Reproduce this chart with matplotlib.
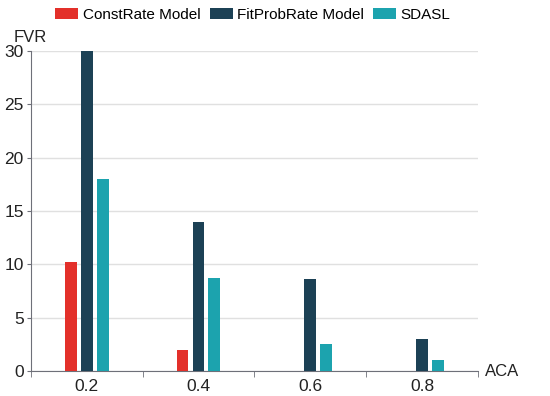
import numpy as np
import matplotlib.pyplot as plt

plt.rcParams['font.family'] = ['Liberation Sans', 'DejaVu Sans']

categories = ['0.2', '0.4', '0.6', '0.8']
const_rate = [10.2, 2.0, 0, 0]
fit_prob = [30, 14, 8.6, 3]
sdasl = [18, 8.7, 2.5, 1]

names = ['ConstRate Model', 'FitProbRate Model', 'SDASL']
colors = ['#e3302a', '#1c4155', '#1ca3ae']

fig = plt.figure(figsize=(5.5, 3.96), dpi=100)
ax = fig.add_axes([0.056, 0.063, 0.813, 0.808])

x = np.arange(len(categories))
w = 0.107
off = 0.143
for i, (vals, name, c) in enumerate(zip([const_rate, fit_prob, sdasl], names, colors)):
    ax.bar(x + (i - 1) * off, vals, width=w, color=c, label=name, zorder=3)

ax.set_xlim(-0.5, 3.5)
ax.set_ylim(0, 30)
ax.set_yticks([0, 5, 10, 15, 20, 25, 30])
ax.set_xticks(x)
ax.set_xticklabels(categories)
ax.set_xticks(np.arange(-0.5, 4, 1), minor=True)
ax.grid(axis='y', color='#e0e0e0', lw=1, zorder=0)

for s in ['top', 'right']:
    ax.spines[s].set_visible(False)
ax.spines['bottom'].set_color('#6e7079')
ax.spines['left'].set_color('#6e7079')
ax.tick_params(axis='x', which='major', length=0, labelsize=12.5, pad=6, labelcolor='#222222')
ax.tick_params(axis='x', which='minor', length=4, color='#6e7079')
ax.tick_params(axis='y', length=3, color='#6e7079', labelsize=12.5, pad=2, labelcolor='#222222')

fig.text(0.055, 0.905, 'FVR', fontsize=12, ha='center', va='center', color='#222222')
fig.text(0.912, 0.063, 'ACA', fontsize=12, ha='center', va='center', color='#222222')

fig.legend(loc='upper center', bbox_to_anchor=(0.46, 1.015), ncol=3, frameon=False,
           fontsize=11, handlelength=1.5, handleheight=0.8, handletextpad=0.3,
           columnspacing=0.6)

fig.savefig('out.png', dpi=100)
